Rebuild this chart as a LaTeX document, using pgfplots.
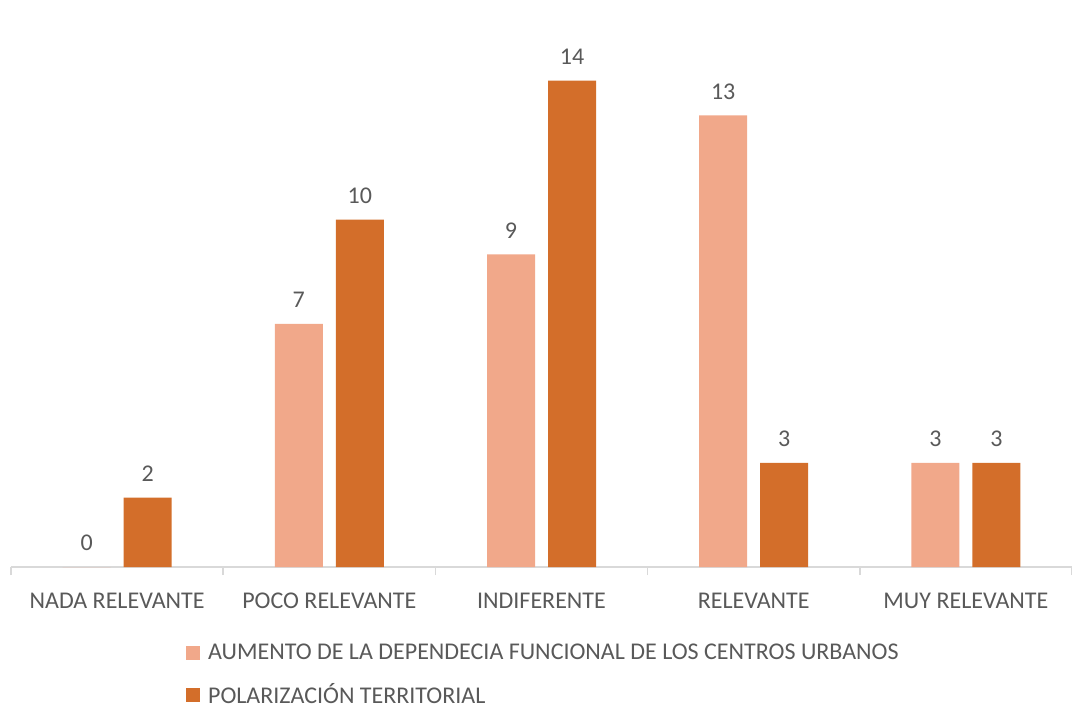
\documentclass[border=0pt]{standalone}
\usepackage{pgfplots}
\pgfplotsset{compat=1.18}
\usepackage{fontspec}
\setmainfont{Carlito}
\usetikzlibrary{calc}
\definecolor{lightbar}{HTML}{F1A88A}
\definecolor{darkbar}{HTML}{D36E2A}
\definecolor{gridc}{HTML}{D9D9D9}
\definecolor{txt}{HTML}{595959}
\begin{document}
\begin{tikzpicture}
\begin{axis}[
  name=ax,
  scale only axis,
  width=530.5pt, height=278pt,
  ybar=6.5pt, bar width=24pt,
  xmin=-0.5, xmax=4.5, ymin=0, ymax=16,
  xtick={0,1,2,3,4},
  xticklabels={NADA RELEVANTE,POCO RELEVANTE,INDIFERENTE,RELEVANTE,MUY RELEVANTE},
  minor xtick={-0.5,0.5,1.5,2.5,3.5,4.5},
  major tick length=0pt, minor tick length=4pt,
  tick align=outside,
  minor tick style={gridc, line width=0.75pt},
  ytick={0,2,...,16}, yticklabels={},
  ymajorgrids, grid style={gridc, line width=0.75pt},
  axis line style={draw=none},
  axis x line*=bottom, axis y line=none,
  x axis line style={draw=gridc, line width=0.75pt},
  font=\fontsize{12pt}{14pt}\selectfont,
  tick label style={text=txt},
  xticklabel style={yshift=-9.5pt},
  /pgf/number format/assume math mode=true,
  nodes near coords,
  every node near coord/.append style={text=txt, yshift=4.5pt},
  legend style={draw=none, fill=none, at={(0.159,-0.126)}, anchor=north west,
    text=txt, row sep=8.5pt, legend cell align=left,
    nodes={inner sep=1pt},
    /tikz/every odd column/.append style={column sep=3pt}},
  legend image code/.code={\fill[#1] (0pt,-3.5pt) rectangle (7pt,3.5pt);},
]
\addplot[fill=lightbar, draw=none] coordinates {(0,0) (1,7) (2,9) (3,13) (4,3)};
\addplot[fill=darkbar, draw=none] coordinates {(0,2) (1,10) (2,14) (3,3) (4,3)};
\legend{AUMENTO DE LA DEPENDECIA FUNCIONAL DE LOS CENTROS URBANOS, POLARIZACIÓN TERRITORIAL}
\end{axis}
\pgfresetboundingbox
\path ($(ax.south west)+(-5.5pt,-70pt)$) rectangle ($(ax.north east)+(0pt,5.5pt)$);
\end{tikzpicture}
\end{document}
